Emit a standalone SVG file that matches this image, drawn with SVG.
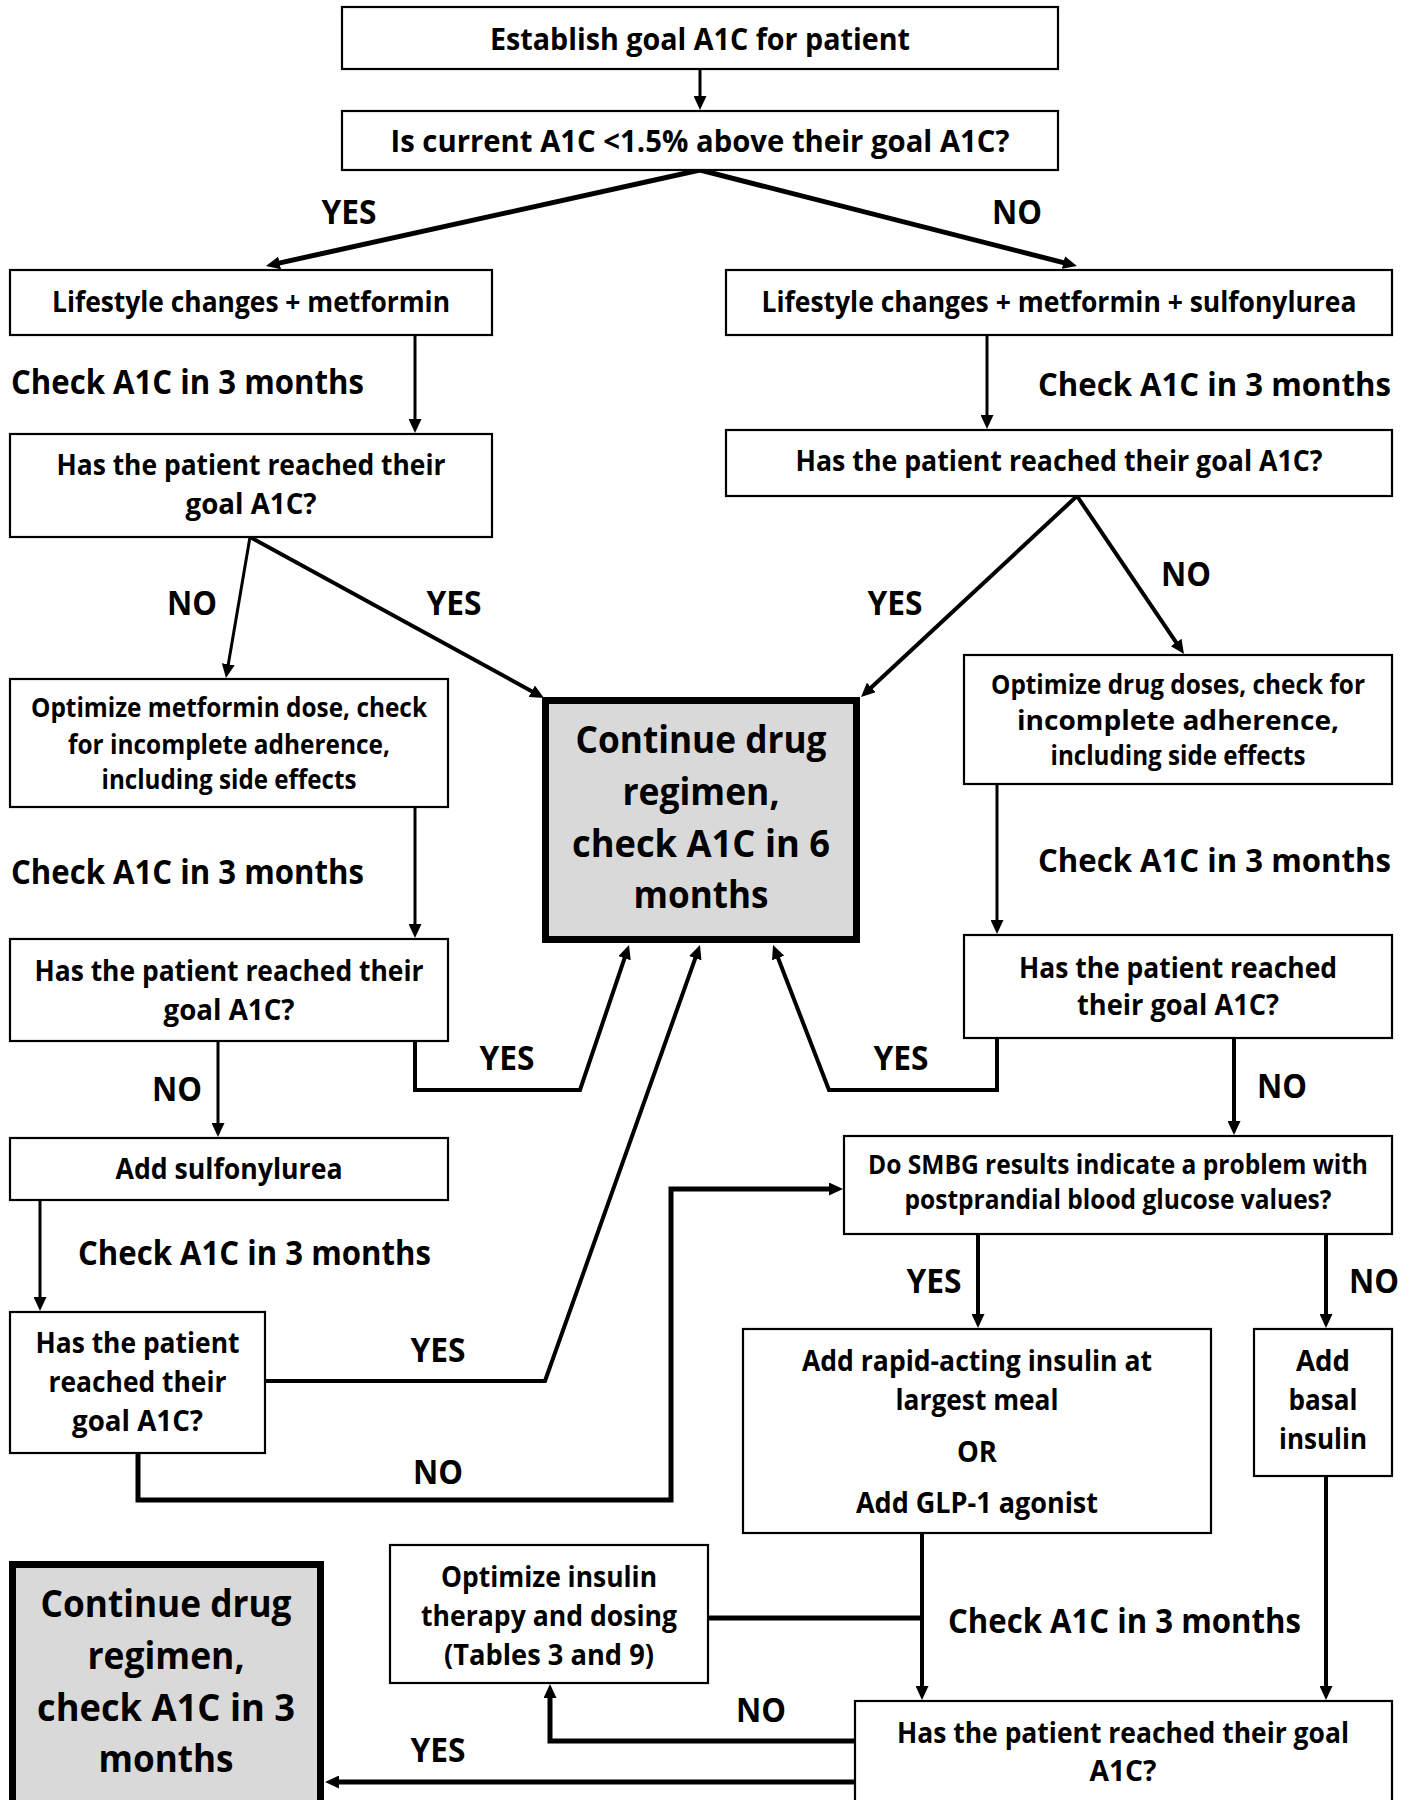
<svg xmlns="http://www.w3.org/2000/svg" width="1414" height="1800" viewBox="0 0 1414 1800">
<defs>
<style>
.box{fill:#fff;stroke:#000;stroke-width:2.2}
.term{fill:#d9d9d9;stroke:#000;stroke-width:7}
text{font-family:"Open Sans","Liberation Sans",sans-serif;font-weight:700;fill:#000}
.t{font-size:28.8px;text-anchor:middle}
.tl{font-size:31px;text-anchor:middle}
.ts{font-size:26.4px;text-anchor:middle}
.tb{font-size:38.3px;text-anchor:middle}
.lab{font-size:33.6px;text-anchor:middle}
.chk{font-size:33.6px;text-anchor:start}
.chkr{font-size:32.2px;text-anchor:start}
.c{fill:none;stroke:#000;stroke-linejoin:miter}
.w3{stroke-width:3}
.w4{stroke-width:4}
.w5{stroke-width:5}
.arr{marker-end:url(#ah)}
</style>
<marker id="ah" markerUnits="userSpaceOnUse" markerWidth="14" markerHeight="13" refX="3" refY="6.5" orient="auto">
<path d="M0,0 L14,6.5 L0,13 Z" fill="#000"/>
</marker>
</defs>
<rect width="1414" height="1800" fill="#fff"/>

<g id="connectors">
<line class="c w3 arr" x1="700" y1="70" x2="700" y2="99"/>
<line class="c w5 arr" x1="700" y1="170" x2="276.7" y2="263.6"/>
<line class="c w5 arr" x1="700" y1="170" x2="1066.3" y2="263.3"/>
<line class="c w3 arr" x1="415" y1="336" x2="415" y2="422"/>
<line class="c w3 arr" x1="987" y1="336" x2="987" y2="418"/>
<line class="c w3 arr" x1="250" y1="537" x2="227.8" y2="667.2"/>
<line class="c w4 arr" x1="250" y1="537" x2="534.4" y2="692.7"/>
<line class="c w4 arr" x1="1077" y1="496" x2="869.1" y2="689.5"/>
<line class="c w4 arr" x1="1077" y1="496" x2="1177.8" y2="644.9"/>
<line class="c w3 arr" x1="415" y1="808" x2="415" y2="927"/>
<line class="c w3 arr" x1="997" y1="785" x2="997" y2="923"/>
<polyline class="c w4 arr" points="415,1042 415,1090 580,1090 625.5,955.4"/>
<polyline class="c w4 arr" points="997,1039 997,1090 829,1090 777,955.3"/>
<polyline class="c w4 arr" points="265,1381 545,1381 696.3,955.4"/>
<line class="c w3 arr" x1="218" y1="1042" x2="218" y2="1126"/>
<line class="c w3 arr" x1="40" y1="1201" x2="40" y2="1300"/>
<polyline class="c w5 arr" points="138,1454 138,1500 671,1500 671,1189 832,1189"/>
<line class="c w4 arr" x1="1234" y1="1039" x2="1234" y2="1124"/>
<line class="c w4 arr" x1="978" y1="1235" x2="978" y2="1317"/>
<line class="c w4 arr" x1="1326" y1="1235" x2="1326" y2="1317"/>
<line class="c w4 arr" x1="922" y1="1534" x2="922" y2="1689"/>
<line class="c w4 arr" x1="1326" y1="1477" x2="1326" y2="1689"/>
<line class="c w5" x1="709" y1="1618" x2="922" y2="1618"/>
<polyline class="c w5 arr" points="855,1741 550,1741 550,1695"/>
<line class="c w5 arr" x1="855" y1="1782" x2="336" y2="1782"/>
</g>

<g id="edge-labels">
<text class="lab" x="349" y="224" textLength="55" lengthAdjust="spacingAndGlyphs">YES</text>
<text class="lab" x="1017" y="224" textLength="50" lengthAdjust="spacingAndGlyphs">NO</text>
<text class="lab" x="192" y="615" textLength="50" lengthAdjust="spacingAndGlyphs">NO</text>
<text class="lab" x="454" y="615" textLength="55" lengthAdjust="spacingAndGlyphs">YES</text>
<text class="lab" x="895" y="615" textLength="55" lengthAdjust="spacingAndGlyphs">YES</text>
<text class="lab" x="1186" y="586" textLength="50" lengthAdjust="spacingAndGlyphs">NO</text>
<text class="lab" x="507" y="1070" textLength="55" lengthAdjust="spacingAndGlyphs">YES</text>
<text class="lab" x="901" y="1070" textLength="55" lengthAdjust="spacingAndGlyphs">YES</text>
<text class="lab" x="177" y="1101" textLength="50" lengthAdjust="spacingAndGlyphs">NO</text>
<text class="lab" x="1282" y="1098" textLength="50" lengthAdjust="spacingAndGlyphs">NO</text>
<text class="lab" x="438" y="1362" textLength="55" lengthAdjust="spacingAndGlyphs">YES</text>
<text class="lab" x="438" y="1484" textLength="50" lengthAdjust="spacingAndGlyphs">NO</text>
<text class="lab" x="934" y="1293" textLength="55" lengthAdjust="spacingAndGlyphs">YES</text>
<text class="lab" x="1374" y="1293" textLength="50" lengthAdjust="spacingAndGlyphs">NO</text>
<text class="lab" x="761" y="1722" textLength="50" lengthAdjust="spacingAndGlyphs">NO</text>
<text class="lab" x="438" y="1762" textLength="55" lengthAdjust="spacingAndGlyphs">YES</text>
<text class="chk" x="11" y="394" textLength="353" lengthAdjust="spacingAndGlyphs">Check A1C in 3 months</text>
<text class="chkr" x="1038" y="396" textLength="353" lengthAdjust="spacingAndGlyphs">Check A1C in 3 months</text>
<text class="chk" x="11" y="884" textLength="353" lengthAdjust="spacingAndGlyphs">Check A1C in 3 months</text>
<text class="chkr" x="1038" y="872" textLength="353" lengthAdjust="spacingAndGlyphs">Check A1C in 3 months</text>
<text class="chk" x="78" y="1265" textLength="353" lengthAdjust="spacingAndGlyphs">Check A1C in 3 months</text>
<text class="chk" x="948" y="1633" textLength="353" lengthAdjust="spacingAndGlyphs">Check A1C in 3 months</text>
</g>

<g id="n1">
<rect class="box" x="342" y="7" width="716" height="62"/>
<text class="tl" x="700" y="50" textLength="420" lengthAdjust="spacingAndGlyphs">Establish goal A1C for patient</text>
</g>
<g id="n2">
<rect class="box" x="342" y="111" width="716" height="59"/>
<text class="tl" x="700" y="152" textLength="619" lengthAdjust="spacingAndGlyphs">Is current A1C &lt;1.5% above their goal A1C?</text>
</g>
<g id="n3">
<rect class="box" x="10" y="270" width="482" height="65"/>
<text class="t" x="251" y="312" textLength="398" lengthAdjust="spacingAndGlyphs">Lifestyle changes + metformin</text>
</g>
<g id="n4">
<rect class="box" x="726" y="270" width="666" height="65"/>
<text class="t" x="1059" y="312" textLength="595" lengthAdjust="spacingAndGlyphs">Lifestyle changes + metformin + sulfonylurea</text>
</g>
<g id="n5">
<rect class="box" x="10" y="434" width="482" height="103"/>
<text class="t" x="251" y="475" textLength="389" lengthAdjust="spacingAndGlyphs">Has the patient reached their</text>
<text class="t" x="251" y="514" textLength="131" lengthAdjust="spacingAndGlyphs">goal A1C?</text>
</g>
<g id="n6">
<rect class="box" x="726" y="430" width="666" height="66"/>
<text class="t" x="1059" y="471" textLength="527" lengthAdjust="spacingAndGlyphs">Has the patient reached their goal A1C?</text>
</g>
<g id="n7">
<rect class="box" x="10" y="679" width="438" height="128"/>
<text class="ts" x="229" y="717" textLength="396" lengthAdjust="spacingAndGlyphs">Optimize metformin dose, check</text>
<text class="ts" x="229" y="754" textLength="322" lengthAdjust="spacingAndGlyphs">for incomplete adherence,</text>
<text class="ts" x="229" y="789" textLength="255" lengthAdjust="spacingAndGlyphs">including side effects</text>
</g>
<g id="n8">
<rect class="box" x="964" y="655" width="428" height="129"/>
<text class="ts" x="1178" y="694" textLength="374" lengthAdjust="spacingAndGlyphs">Optimize drug doses, check for</text>
<text class="ts" x="1178" y="730" textLength="322" lengthAdjust="spacingAndGlyphs">incomplete adherence,</text>
<text class="ts" x="1178" y="765" textLength="255" lengthAdjust="spacingAndGlyphs">including side effects</text>
</g>
<g id="n9">
<rect class="term" x="545.5" y="700.5" width="311" height="239"/>
<text class="tb" x="701" y="753" textLength="251" lengthAdjust="spacingAndGlyphs">Continue drug</text>
<text class="tb" x="701" y="805" textLength="157" lengthAdjust="spacingAndGlyphs">regimen,</text>
<text class="tb" x="701" y="857" textLength="258" lengthAdjust="spacingAndGlyphs">check A1C in 6</text>
<text class="tb" x="701" y="908" textLength="135" lengthAdjust="spacingAndGlyphs">months</text>
</g>
<g id="n10">
<rect class="box" x="10" y="939" width="438" height="102"/>
<text class="t" x="229" y="981" textLength="389" lengthAdjust="spacingAndGlyphs">Has the patient reached their</text>
<text class="t" x="229" y="1020" textLength="131" lengthAdjust="spacingAndGlyphs">goal A1C?</text>
</g>
<g id="n11">
<rect class="box" x="964" y="935" width="428" height="103"/>
<text class="t" x="1178" y="978" textLength="318" lengthAdjust="spacingAndGlyphs">Has the patient reached</text>
<text class="t" x="1178" y="1015" textLength="202" lengthAdjust="spacingAndGlyphs">their goal A1C?</text>
</g>
<g id="n12">
<rect class="box" x="10" y="1138" width="438" height="62"/>
<text class="t" x="229" y="1179" textLength="227" lengthAdjust="spacingAndGlyphs">Add sulfonylurea</text>
</g>
<g id="n13">
<rect class="box" x="10" y="1312" width="255" height="141"/>
<text class="t" x="137.5" y="1353" textLength="204" lengthAdjust="spacingAndGlyphs">Has the patient</text>
<text class="t" x="137.5" y="1392" textLength="178" lengthAdjust="spacingAndGlyphs">reached their</text>
<text class="t" x="137.5" y="1431" textLength="131" lengthAdjust="spacingAndGlyphs">goal A1C?</text>
</g>
<g id="n14">
<rect class="box" x="844" y="1136" width="548" height="98"/>
<text class="ts" x="1118" y="1174" textLength="500" lengthAdjust="spacingAndGlyphs">Do SMBG results indicate a problem with</text>
<text class="ts" x="1118" y="1209" textLength="427" lengthAdjust="spacingAndGlyphs">postprandial blood glucose values?</text>
</g>
<g id="n15">
<rect class="box" x="743" y="1329" width="468" height="204"/>
<text class="t" x="977" y="1371" textLength="350" lengthAdjust="spacingAndGlyphs">Add rapid-acting insulin at</text>
<text class="t" x="977" y="1410" textLength="163" lengthAdjust="spacingAndGlyphs">largest meal</text>
<text class="t" x="977" y="1462" textLength="40" lengthAdjust="spacingAndGlyphs">OR</text>
<text class="t" x="977" y="1513" textLength="242" lengthAdjust="spacingAndGlyphs">Add GLP-1 agonist</text>
</g>
<g id="n16">
<rect class="box" x="1254" y="1329" width="138" height="147"/>
<text class="t" x="1323" y="1371" textLength="54" lengthAdjust="spacingAndGlyphs">Add</text>
<text class="t" x="1323" y="1410" textLength="69" lengthAdjust="spacingAndGlyphs">basal</text>
<text class="t" x="1323" y="1449" textLength="88" lengthAdjust="spacingAndGlyphs">insulin</text>
</g>
<g id="n17">
<rect class="box" x="390" y="1545" width="318" height="138"/>
<text class="t" x="549" y="1587" textLength="216" lengthAdjust="spacingAndGlyphs">Optimize insulin</text>
<text class="t" x="549" y="1626" textLength="256" lengthAdjust="spacingAndGlyphs">therapy and dosing</text>
<text class="t" x="549" y="1665" textLength="210" lengthAdjust="spacingAndGlyphs">(Tables 3 and 9)</text>
</g>
<g id="n18">
<rect class="box" x="855" y="1701" width="537" height="110"/>
<text class="t" x="1123" y="1743" textLength="452" lengthAdjust="spacingAndGlyphs">Has the patient reached their goal</text>
<text class="t" x="1123" y="1781" textLength="67" lengthAdjust="spacingAndGlyphs">A1C?</text>
</g>
<g id="n19">
<rect class="term" x="12.5" y="1564.5" width="308" height="260"/>
<text class="tb" x="166" y="1617" textLength="251" lengthAdjust="spacingAndGlyphs">Continue drug</text>
<text class="tb" x="166" y="1669" textLength="157" lengthAdjust="spacingAndGlyphs">regimen,</text>
<text class="tb" x="166" y="1721" textLength="258" lengthAdjust="spacingAndGlyphs">check A1C in 3</text>
<text class="tb" x="166" y="1772" textLength="135" lengthAdjust="spacingAndGlyphs">months</text>
</g>
</svg>
